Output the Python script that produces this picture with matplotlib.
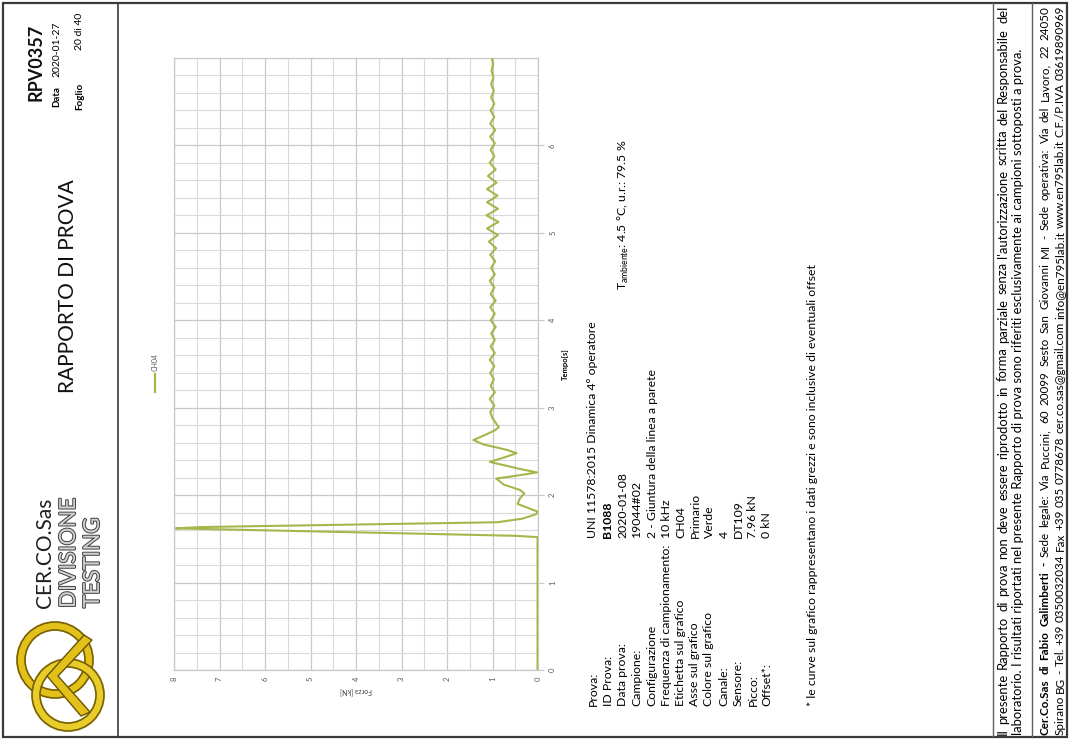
import numpy as np
import matplotlib
matplotlib.use("Agg")
import matplotlib.pyplot as plt
from matplotlib.patches import Circle, Rectangle, Polygon
from matplotlib.lines import Line2D
import matplotlib.patheffects as pe

plt.rcParams['font.family'] = ['Lato', 'DejaVu Sans']

# ---------------- data ----------------
series_label = "CH04"
time_s = [0.00, 1.52, 1.535, 1.62, 1.635, 1.69, 1.73, 1.78, 1.81, 1.86, 1.90, 1.96,
          2.02, 2.06, 2.12, 2.19, 2.22, 2.26, 2.30, 2.38, 2.43, 2.48, 2.52, 2.58,
          2.63, 2.68, 2.74, 2.78, 2.82, 2.88,
          2.95, 3.025, 3.10, 3.175, 3.25, 3.325, 3.40, 3.475, 3.55, 3.625, 3.70,
          3.775, 3.85, 3.925, 4.00, 4.075, 4.15, 4.225, 4.30, 4.375, 4.45, 4.525,
          4.60, 4.675, 4.75, 4.825, 4.90, 4.975, 5.05, 5.125, 5.20, 5.275, 5.35,
          5.425, 5.50, 5.575, 5.65, 5.725, 5.80, 5.875, 5.95, 6.025, 6.10, 6.175,
          6.25, 6.325, 6.40, 6.475, 6.55, 6.625, 6.70, 6.775, 6.85, 6.925, 6.99]
force_kN = [0.01, 0.01, 0.50, 7.96, 7.40, 0.90, 0.35, 0.05, 0.00, 0.25, 0.45, 0.40,
            0.30, 0.40, 0.75, 0.92, 0.50, 0.02, 0.40, 1.06, 0.75, 0.47, 0.70, 1.20,
            1.42, 1.20, 0.95, 0.86, 0.92, 1.00,
            1.05, 0.96, 1.06, 0.95, 1.04, 0.97, 1.05, 0.96, 1.06, 0.95, 1.04,
            0.95, 1.03, 0.93, 1.04, 0.95, 1.05, 0.93, 1.04, 0.96, 1.06, 0.95,
            1.03, 0.94, 1.05, 0.92, 1.08, 0.88, 1.12, 0.87, 1.13, 0.88, 1.12,
            0.89, 1.12, 0.91, 1.10, 0.93, 1.06, 0.96, 1.04, 0.95, 1.05, 0.94,
            1.05, 0.96, 1.04, 0.96, 1.03, 0.97, 1.03, 0.98, 1.02, 0.99, 1.01]
force_ticks = [0, 1, 2, 3, 4, 5, 6, 7, 8]
time_ticks = [0, 1, 2, 3, 4, 5, 6]

info_labels = ["Prova:", "ID Prova:", "Data prova:", "Campione:", "Configurazione",
               "Frequenza di campionamento:", "Etichetta sul grafico", "Asse sul grafico",
               "Colore sul grafico", "Canale:", "Sensore:", "Picco:", "Offset*:"]
info_values = ["UNI 11578:2015 Dinamica 4\u00b0 operatore", "B1088", "2020-01-08", "19044#02",
               "2 - Giuntura della linea a parete", "10 kHz", "CH04", "Primario", "Verde",
               "4", "DT109", "7.96 kN", "0 kN"]

GREEN = "#a3b84a"
GRID = "#d9d9d9"

fig = plt.figure(figsize=(10.7, 7.4), dpi=100)
page = fig.add_axes([0, 0, 1, 1])
page.set_xlim(0, 1070)
page.set_ylim(740, 0)
page.axis("off")
renderer = fig.canvas.get_renderer()


def vtext(x, y, s, va="bottom", ha="center", **kw):
    return page.text(x, y, s, rotation=90, ha=ha, va=va, **kw)


def text_len(s, size, **kw):
    t = page.text(0, 0, s, rotation=90, fontsize=size, **kw)
    h = t.get_window_extent(renderer).height
    t.remove()
    return h


def fit_size(s, length, base=10.0, **kw):
    return base * length / text_len(s, base, **kw)


# ---------------- page frame ----------------
page.add_patch(Rectangle((3, 3), 1064, 734, fill=False, ec="#3a3a3a", lw=1.6))
page.plot([118, 118], [3, 737], color="#3a3a3a", lw=1.2)
page.plot([993, 993], [3, 737], color="#606060", lw=1.0)
page.plot([1032, 1032], [3, 737], color="#606060", lw=1.0)

# ---------------- header ----------------
page.add_patch(Circle((55, 660), 34, fill=False, ec="#7a6200", lw=7))
page.add_patch(Circle((55, 660), 34, fill=False, ec="#e2c21a", lw=4.5))
page.add_patch(Circle((68, 695), 32, fill=False, ec="#7a6200", lw=7))
page.add_patch(Circle((68, 695), 32, fill=False, ec="#e8cc2a", lw=4.5))
page.add_patch(Polygon([[92, 640], [58, 676], [90, 712], [81, 716], [47, 676], [84, 635]],
                       closed=True, fc="#e2c21a", ec="#6b5500", lw=1.0))
vtext(45, 608, "CER.CO.Sas", fontsize=15, color="#202020")
vtext(69, 608, "DIVISIONE", fontsize=16, color="#d0d0d0",
      path_effects=[pe.withStroke(linewidth=1.4, foreground="#404040")])
vtext(93, 608, "TESTING", fontsize=16, color="#d0d0d0",
      path_effects=[pe.withStroke(linewidth=1.4, foreground="#404040")])

vtext(68, 393, "RAPPORTO DI PROVA", fontsize=15, color="#111111")
vtext(36, 101, "RPV0357", fontsize=13, fontweight="bold", color="#111111")
vtext(57, 107, "Data", fontsize=7, fontweight="bold")
vtext(57, 77, "2020-01-27", fontsize=7.5)
vtext(80, 110, "Foglio", fontsize=7, fontweight="bold")
vtext(80, 50, "20 di 40", fontsize=7.5)

# ---------------- chart ----------------
ax = fig.add_axes([174 / 1070, 1 - 670 / 740, 364 / 1070, 612 / 740])
ax.plot(force_kN, time_s, color=GREEN, lw=1.5, label=series_label, zorder=3)
ax.set_xlim(8, 0)
ax.set_ylim(0, 7)
ax.set_xticks(force_ticks)
ax.set_xticks(np.arange(0, 8.01, 0.5), minor=True)
ax.set_yticks(time_ticks)
ax.set_yticks(np.arange(0, 7.01, 0.2), minor=True)
ax.yaxis.tick_right()
ax.yaxis.set_label_position("right")
ax.grid(which="minor", color=GRID, lw=0.8)
ax.grid(which="major", color="#c8c8c8", lw=0.9)
for s in ax.spines.values():
    s.set_color("#c8c8c8")
    s.set_linewidth(0.9)
ax.tick_params(axis="x", which="both", length=0, labelsize=5.5, labelcolor="#595959",
               labelrotation=90, pad=5)
ax.tick_params(axis="y", which="major", length=4, color="#c8c8c8", labelsize=5.5,
               labelcolor="#595959", labelrotation=90, pad=4)
ax.tick_params(axis="y", which="minor", length=0)
for lab in ax.get_yticklabels():
    lab.set_va("center")
ax.set_ylabel("Tempo[s]", fontsize=5.5, fontweight="bold", rotation=90, labelpad=4)
ax.set_xlabel("Forza [kN]", fontsize=5, color="#404040", rotation=180, labelpad=4)

page.add_line(Line2D([155, 155], [374, 392], color=GREEN, lw=1.6))
vtext(155, 371, series_label, fontsize=5, color="#595959")

# ---------------- info block ----------------
footnote = "* le curve sul grafico rappresentano i dati grezzi e sono inclusive di eventuali offset"
info_size = fit_size(footnote, 445)
lab_bottom = 706
freq_len = text_len("Frequenza di campionamento:", info_size)
val_bottom = min(557, lab_bottom - freq_len - 7)
info_x = [593, 608, 623, 637, 652, 667, 681, 695, 709, 724, 738, 753, 767]
for xx, lab, val in zip(info_x, info_labels, info_values):
    vtext(xx, lab_bottom, lab, fontsize=info_size)
    vtext(xx, val_bottom, val, fontsize=info_size,
          fontweight="bold" if lab == "ID Prova:" else "normal")
vtext(623, 290, "T$_{\\mathregular{ambiente}}$: 4.5 \u00b0C, u.r.: 79.5 %", fontsize=info_size)
vtext(813, lab_bottom, footnote, fontsize=info_size)

# ---------------- footer ----------------
foot1 = ("Il presente Rapporto di prova non deve essere riprodotto in forma parziale "
         "senza l'autorizzazione scritta del Responsabile del")
foot2 = ("laboratorio. I risultati riportati nel presente Rapporto di prova sono riferiti "
         "esclusivamente ai campioni sottoposti a prova.")
foot3 = ("Cer.Co.Sas di Fabio Galimberti - Sede legale: Via Puccini, 60 20099 Sesto San "
         "Giovanni MI - Sede operativa: Via del Lavoro, 22 24050")
foot4 = ("Spirano BG - Tel. +39 0350032034 Fax +39 035 0778678 cer.co.sas@gmail.com "
         "info@en795lab.it www.en795lab.it C.F./P.IVA 03619890969")
size12 = min(fit_size(foot1, 712), fit_size(foot2, 718))
size34 = min(fit_size(foot3, 700), fit_size(foot4, 728))


def justify(x, y_bottom, y_top, words, size, bold_n=0):
    arts = []
    for i, w in enumerate(words):
        arts.append(page.text(x, y_bottom, w, rotation=90, ha="center", va="bottom",
                              fontsize=size, fontweight="bold" if i < bold_n else "normal"))
    hs = [a.get_window_extent(renderer).height for a in arts]
    gap = ((y_bottom - y_top) - sum(hs)) / (len(words) - 1)
    y = y_bottom
    for a, h in zip(arts, hs):
        a.set_y(y)
        y -= h + gap


justify(1003, 735, 6, foot1.split(), size12)
vtext(1018, 735, foot2, fontsize=size12)
justify(1045, 735, 6, foot3.split(), size34, bold_n=5)
justify(1060, 735, 6, foot4.split(), size34)

fig.savefig("out.png", dpi=100)
